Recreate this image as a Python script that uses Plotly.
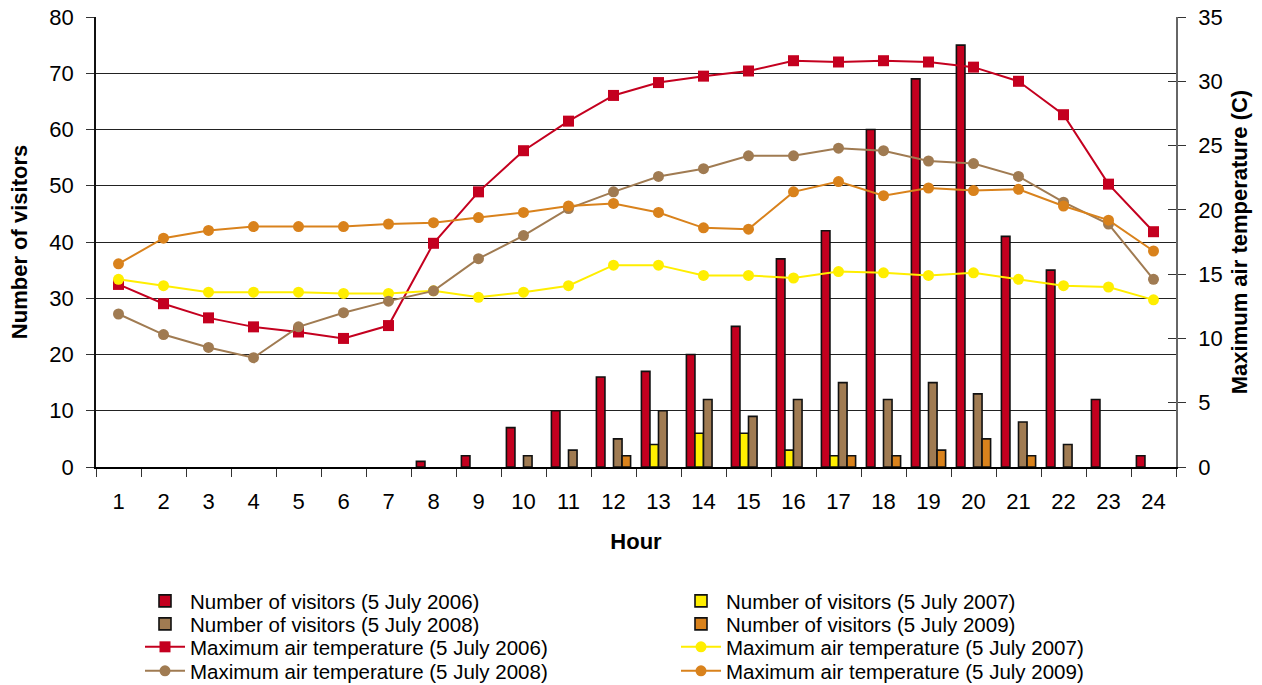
import plotly.graph_objects as go

hours = [str(h) for h in range(1, 25)]

visitors_2006 = [0, 0, 0, 0, 0, 0, 0, 1, 2, 7, 10, 16, 17, 20, 25, 37, 42, 60, 69, 75, 41, 35, 12, 2]
visitors_2007 = [0, 0, 0, 0, 0, 0, 0, 0, 0, 0, 0, 0, 4, 6, 6, 3, 2, 0, 0, 0, 0, 0, 0, 0]
visitors_2008 = [0, 0, 0, 0, 0, 0, 0, 0, 0, 2, 3, 5, 10, 12, 9, 12, 15, 12, 15, 13, 8, 4, 0, 0]
visitors_2009 = [0, 0, 0, 0, 0, 0, 0, 0, 0, 0, 0, 2, 0, 0, 0, 0, 2, 2, 3, 5, 2, 0, 0, 0]

temp_2006 = [14.2, 12.7, 11.6, 10.9, 10.5, 10.0, 11.0, 17.4, 21.4, 24.6, 26.9, 28.9, 29.9, 30.4,
             30.8, 31.6, 31.5, 31.6, 31.5, 31.1, 30.0, 27.4, 22.0, 18.3]
temp_2007 = [14.6, 14.1, 13.6, 13.6, 13.6, 13.5, 13.5, 13.7, 13.2, 13.6, 14.1, 15.7, 15.7, 14.9,
             14.9, 14.7, 15.2, 15.1, 14.9, 15.1, 14.6, 14.1, 14.0, 13.0]
temp_2008 = [11.9, 10.3, 9.3, 8.5, 10.9, 12.0, 12.9, 13.7, 16.2, 18.0, 20.1, 21.4, 22.6, 23.2,
             24.2, 24.2, 24.8, 24.6, 23.8, 23.6, 22.6, 20.6, 18.9, 14.6]
temp_2009 = [15.8, 17.8, 18.4, 18.7, 18.7, 18.7, 18.9, 19.0, 19.4, 19.8, 20.3, 20.5, 19.8, 18.6,
             18.5, 21.4, 22.2, 21.1, 21.7, 21.5, 21.6, 20.3, 19.2, 16.8]

RED = "#C4001F"
YELLOW = "#FFEE00"
BROWN = "#A07B52"
ORANGE = "#D9821C"

FONT = "Liberation Sans, Arial, sans-serif"
W, H = 1262, 685

fig = go.Figure()

bar_specs = [
    ("Number of visitors (5 July 2006)", visitors_2006, RED, "legend"),
    ("Number of visitors (5 July 2007)", visitors_2007, YELLOW, "legend"),
    ("Number of visitors (5 July 2008)", visitors_2008, BROWN, "legend2"),
    ("Number of visitors (5 July 2009)", visitors_2009, ORANGE, "legend2"),
]
for name, vals, col, lg in bar_specs:
    # hours with no visitors get no bar (avoids a zero-height outline on the axis)
    xs = [h for h, v in zip(hours, vals) if v]
    ys = [v for v in vals if v]
    fig.add_trace(go.Bar(
        x=xs, y=ys, name=name,
        marker=dict(color=col, line=dict(color="#111", width=1.6)),
        yaxis="y", legend=lg,
    ))

line_specs = [
    ("Maximum air temperature (5 July 2006)", temp_2006, RED, "square", "legend3"),
    ("Maximum air temperature (5 July 2007)", temp_2007, YELLOW, "circle", "legend3"),
    ("Maximum air temperature (5 July 2008)", temp_2008, BROWN, "circle", "legend4"),
    ("Maximum air temperature (5 July 2009)", temp_2009, ORANGE, "circle", "legend4"),
]
for name, vals, col, sym, lg in line_specs:
    fig.add_trace(go.Scatter(
        x=hours, y=vals, name=name, mode="lines+markers",
        line=dict(color=col, width=2),
        marker=dict(color=col, symbol=sym, size=11),
        yaxis="y2", legend=lg,
    ))

row_centers = [601, 624, 647, 671]


def legend_row(yc):
    return dict(
        orientation="h", xref="container", yref="container",
        x=140 / W, y=1 - yc / H, xanchor="left", yanchor="middle",
        entrywidth=481, entrywidthmode="pixels",
        font=dict(family=FONT, size=20.5, color="#000"),
        bgcolor="rgba(0,0,0,0)", itemwidth=40, borderwidth=0,
    )


fig.update_layout(
    width=W, height=H,
    margin=dict(l=96, r=86, t=17, b=218, autoexpand=False),
    paper_bgcolor="white", plot_bgcolor="white",
    font=dict(family=FONT, size=22, color="#000"),
    barmode="group", bargap=0.24, bargroupgap=0,
    xaxis=dict(
        type="category", categoryorder="array", categoryarray=hours,
        range=[-0.5, len(hours) - 0.5],
        tickson="boundaries", ticks="outside", ticklen=8, tickcolor="#333",
        showline=True, linecolor="#000", linewidth=1.5, showgrid=False,
        tickfont=dict(size=22), ticklabelstandoff=14,
        title=dict(text="<b>Hour</b>", font=dict(size=22), standoff=20),
    ),
    yaxis=dict(
        range=[0, 80], dtick=10, ticks="outside", ticklen=8, tickcolor="#333",
        showline=True, linecolor="#111", linewidth=1.5,
        showgrid=True, gridcolor="#222", gridwidth=1, zeroline=False,
        tickfont=dict(size=22), ticklabelstandoff=8,
        title=dict(text="<b>Number of visitors</b>", font=dict(size=22), standoff=16),
    ),
    yaxis2=dict(
        range=[0, 35], dtick=5, overlaying="y", side="right", ticks="outside", ticklen=8,
        tickcolor="#333", showline=True, linecolor="#666", linewidth=1.5,
        showgrid=False, zeroline=False, tickfont=dict(size=22), ticklabelstandoff=8,
        title=dict(text="<b>Maximum air temperature (C)</b>", font=dict(size=22), standoff=10),
    ),
    yaxis3=dict(
        range=[0, 35], dtick=5, overlaying="y", side="right", ticks="inside", ticklen=8,
        tickcolor="#333", showline=False, showgrid=False, zeroline=False,
        showticklabels=False,
    ),
    legend=legend_row(row_centers[0]),
    legend2=legend_row(row_centers[1]),
    legend3=legend_row(row_centers[2]),
    legend4=legend_row(row_centers[3]),
    showlegend=True,
)

# invisible trace so the inside tick marks of the right axis are drawn
fig.add_trace(go.Scatter(x=hours[:1], y=[None], yaxis="y3", showlegend=False, hoverinfo="skip"))

fig.write_html("out.html", config={"displayModeBar": False},
               post_script="document.body.style.margin='0';")
